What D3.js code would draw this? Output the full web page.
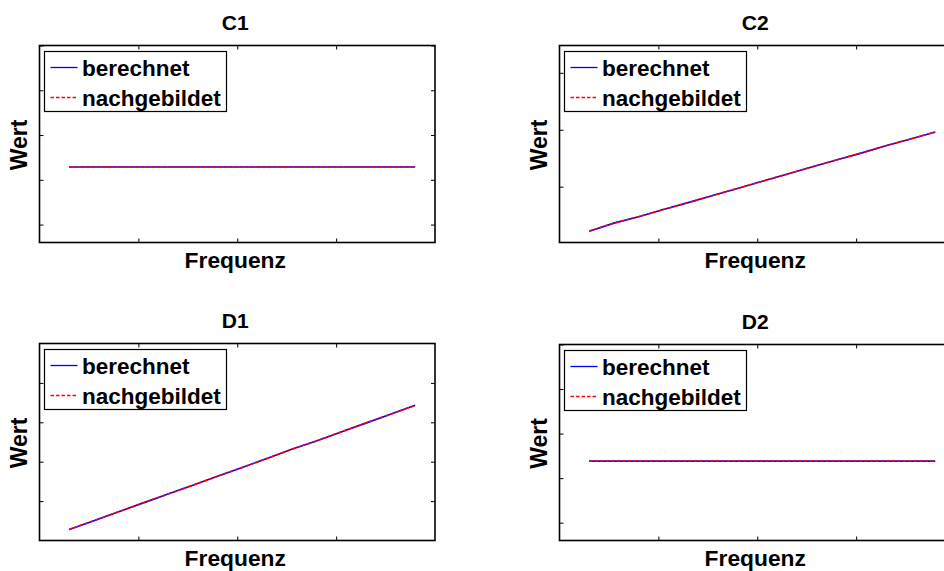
<!DOCTYPE html>
<html>
<head>
<meta charset="utf-8">
<script src="https://cdn.jsdelivr.net/npm/d3@7"></script>
<style>
  html, body { margin: 0; padding: 0; background: #fff; }
  svg { display: block; }
  text { font-family: "Liberation Sans", Arial, Helvetica, sans-serif; font-weight: bold; fill: #000; }
</style>
</head>
<body>
<svg id="chart" width="944" height="571"></svg>
<script>
// Frequency grid shared by all four panels
const freq = [300, 550, 800, 1050, 1300, 1550, 1800, 2050, 2300, 2550, 2800, 3050, 3300, 3550, 3800];

// C1: constant value
const c1Berechnet     = [2.285, 2.285, 2.285, 2.285, 2.285, 2.285, 2.285, 2.285, 2.285, 2.285, 2.285, 2.285, 2.285, 2.285, 2.285];
const c1Nachgebildet  = [2.285, 2.285, 2.285, 2.285, 2.285, 2.285, 2.285, 2.285, 2.285, 2.285, 2.285, 2.285, 2.285, 2.285, 2.285];

// C2: rising
const c2Berechnet     = [0.219, 0.360, 0.474, 0.598, 0.720, 0.845, 0.970, 1.095, 1.220, 1.346, 1.468, 1.590, 1.718, 1.838, 1.959];
const c2Nachgebildet  = [0.219, 0.360, 0.474, 0.598, 0.720, 0.845, 0.970, 1.095, 1.220, 1.346, 1.468, 1.590, 1.718, 1.838, 1.959];

// D1: rising
const d1Berechnet     = [0.279, 0.504, 0.729, 0.955, 1.178, 1.403, 1.629, 1.854, 2.080, 2.315, 2.525, 2.756, 2.979, 3.204, 3.430];
const d1Nachgebildet  = [0.279, 0.504, 0.729, 0.955, 1.178, 1.403, 1.629, 1.854, 2.080, 2.315, 2.525, 2.756, 2.979, 3.204, 3.430];

// D2: constant value
const d2Berechnet     = [2.381, 2.381, 2.381, 2.381, 2.381, 2.381, 2.381, 2.381, 2.381, 2.381, 2.381, 2.381, 2.381, 2.381, 2.381];
const d2Nachgebildet  = [2.381, 2.381, 2.381, 2.381, 2.381, 2.381, 2.381, 2.381, 2.381, 2.381, 2.381, 2.381, 2.381, 2.381, 2.381];

// Axis ranges and tick positions (ticks are drawn without labels)
const xDomain = [0, 4000];
const xTicks = [1000, 2000, 3000];
const c1YDomain = [0.6, 5],     c1YTicks = [1, 2, 3, 4, 5];
const c2YDomain = [0.02, 3.48], c2YTicks = [1, 2, 3];
const d1YDomain = [0, 5],       d1YTicks = [1, 2, 3, 4];
const d2YDomain = [0.6, 5],     d2YTicks = [1, 2, 3, 4, 5];

const titles = ["C1", "C2", "D1", "D2"];
const seriesNames = ["berechnet", "nachgebildet"];
const xLabel = "Frequenz";
const yLabel = "Wert";

const panels = [
  { title: titles[0], b: c1Berechnet, n: c1Nachgebildet, yDomain: c1YDomain, yTicks: c1YTicks, left: 39.5,  top: 45.5,  bottom: 242.5 },
  { title: titles[1], b: c2Berechnet, n: c2Nachgebildet, yDomain: c2YDomain, yTicks: c2YTicks, left: 559.5, top: 45.5,  bottom: 242.5 },
  { title: titles[2], b: d1Berechnet, n: d1Nachgebildet, yDomain: d1YDomain, yTicks: d1YTicks, left: 39.5,  top: 343.5, bottom: 540.5 },
  { title: titles[3], b: d2Berechnet, n: d2Nachgebildet, yDomain: d2YDomain, yTicks: d2YTicks, left: 559.5, top: 344.5, bottom: 540.5 }
];

const axWidth = 395.5;
const tickLen = 4;
const blue = "#0000ff";
const red = "#ff0000";
const svg = d3.select("#chart");

panels.forEach(p => {
  const g = svg.append("g");
  const x = d3.scaleLinear().domain(xDomain).range([p.left, p.left + axWidth]);
  const y = d3.scaleLinear().domain(p.yDomain).range([p.bottom, p.top]);
  const right = p.left + axWidth;

  // Data lines: solid blue with dashed red on top
  const line = d3.line().x((d, i) => x(freq[i])).y(d => y(d));
  g.append("path").datum(p.b).attr("d", line)
    .attr("fill", "none").attr("stroke", blue).attr("stroke-width", 1.6);
  g.append("path").datum(p.n).attr("d", line)
    .attr("fill", "none").attr("stroke", red).attr("stroke-width", 1.6)
    .attr("stroke-dasharray", "3.5,2");

  // Ticks on all four sides, pointing inward
  const axBottom = d3.axisBottom(x).tickValues(xTicks).tickSizeInner(-tickLen).tickSizeOuter(0).tickFormat("");
  const axTop = d3.axisTop(x).tickValues(xTicks).tickSizeInner(-tickLen).tickSizeOuter(0).tickFormat("");
  const axLeft = d3.axisLeft(y).tickValues(p.yTicks).tickSizeInner(-tickLen).tickSizeOuter(0).tickFormat("");
  const axRight = d3.axisRight(y).tickValues(p.yTicks).tickSizeInner(-tickLen).tickSizeOuter(0).tickFormat("");
  [
    g.append("g").attr("transform", `translate(0,${p.bottom})`).call(axBottom),
    g.append("g").attr("transform", `translate(0,${p.top})`).call(axTop),
    g.append("g").attr("transform", `translate(${p.left},0)`).call(axLeft),
    g.append("g").attr("transform", `translate(${right},0)`).call(axRight)
  ].forEach(a => {
    a.select(".domain").remove();
    a.selectAll(".tick line").attr("stroke", "#000").attr("stroke-width", 1);
  });

  // Axes box
  g.append("rect").attr("x", p.left).attr("y", p.top)
    .attr("width", axWidth).attr("height", p.bottom - p.top)
    .attr("fill", "none").attr("stroke", "#000").attr("stroke-width", 1.6);

  // Title and axis labels
  const cx = p.left + axWidth / 2 - 2;
  g.append("text").attr("x", cx).attr("y", p.top - 16)
    .attr("text-anchor", "middle").attr("font-size", 21).text(p.title);
  g.append("text").attr("x", cx).attr("y", p.bottom + 25.5)
    .attr("text-anchor", "middle").attr("font-size", 22.8).text(xLabel);
  g.append("text")
    .attr("transform", `translate(${p.left - 13},${(p.top + p.bottom) / 2 + 1}) rotate(-90)`)
    .attr("text-anchor", "middle").attr("font-size", 23).text(yLabel);

  // Legend
  const lx = p.left + 5, ly = Math.round(p.top + 5) + 0.5;
  const lg = g.append("g").attr("transform", `translate(${lx},${ly})`);
  lg.append("rect").attr("x", 0).attr("y", 0).attr("width", 182).attr("height", 60)
    .attr("fill", "#fff").attr("stroke", "#000").attr("stroke-width", 1.2);
  const entries = [
    { name: seriesNames[0], color: blue, dash: null },
    { name: seriesNames[1], color: red, dash: "3.5,2" }
  ];
  entries.forEach((e, i) => {
    const ry = 16 + i * 30;
    const ln = lg.append("line").attr("x1", 6).attr("x2", 33).attr("y1", ry).attr("y2", ry)
      .attr("stroke", e.color).attr("stroke-width", 1.3);
    if (e.dash) ln.attr("stroke-dasharray", e.dash);
    lg.append("text").attr("x", 37.5).attr("y", ry + 8)
      .attr("font-size", 22.5).text(e.name);
  });
});
</script>
</body>
</html>
